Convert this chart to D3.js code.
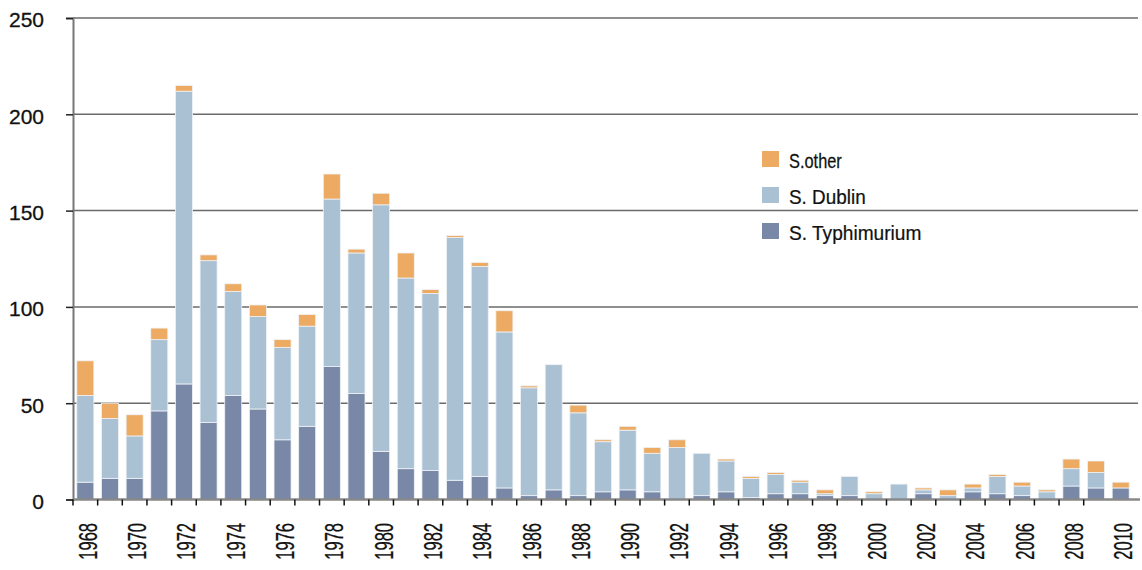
<!DOCTYPE html>
<html><head><meta charset="utf-8">
<script src="https://cdn.jsdelivr.net/npm/d3@7"></script>
<style>
body{margin:0;background:#fff;}
svg{display:block;}
text{font-family:"Liberation Sans Narrow","Liberation Sans",Arial,sans-serif;fill:#111;}
</style></head>
<body><svg id="c" width="1142" height="570"></svg>
<script>
const years = d3.range(1968, 2011);
const typhimurium = [9,11,11,46,60,40,54,47,31,38,69,55,25,16,15,10,12,6,2,5,2,4,5,4,0,2,4,1,3,3,2,2,0,0,3,0,4,3,2,0,7,6,6];
const dublin      = [45,31,22,37,152,84,54,48,48,52,87,73,128,99,92,126,109,81,56,65,43,26,31,20,27,22,16,10,10,6,1,10,3,8,2,2,2,9,5,4,9,8,0];
const other       = [18,8,11,6,3,3,4,6,4,6,13,2,6,13,2,1,2,11,1,0,4,1,2,3,4,0,1,1,1,1,2,0,1,0,1,3,2,1,2,1,5,6,3];
const seriesNames = ["S. Typhimurium","S. Dublin","S.other"];
const colors = ["#7888a6","#aac1d4","#edaa62"];
const yTicks = [0,50,100,150,200,250];
const xLabelYears = years.filter(y => y % 2 === 0);

(function(){
const svg = d3.select("#c");
const mLeft = 73, mRight = 1133, gridRight = 1138, mTop = 18, mBottom = 499.5;

const x = d3.scaleBand().domain(years).range([mLeft, mRight]).paddingInner(0.31).paddingOuter(0.155);
const y = d3.scaleLinear().domain([0,250]).range([mBottom, mTop]);

const table = years.map((yr,i)=>({year:yr, "S. Typhimurium":typhimurium[i], "S. Dublin":dublin[i], "S.other":other[i]}));
const stack = d3.stack().keys(seriesNames)(table);

svg.append("g").selectAll("line").data(yTicks.filter(t=>t>0)).join("line")
  .attr("x1", mLeft).attr("x2", gridRight)
  .attr("y1", d=>y(d)).attr("y2", d=>y(d))
  .attr("stroke","#6a6a6a").attr("stroke-width",1.5);

svg.append("g").selectAll("g").data(stack).join("g")
  .attr("fill",(d,i)=>colors[i])
  .selectAll("rect").data(d=>d.filter(s=>s[1]-s[0]>0)).join("rect")
  .attr("x", d=>x(d.data.year))
  .attr("width", x.bandwidth())
  .attr("y", d=>y(d[1]))
  .attr("height", d=>y(d[0])-y(d[1]))
  .attr("stroke","#eef2f6").attr("stroke-width",0.8);

const yAxis = d3.axisLeft(y).tickValues(yTicks).tickSize(7).tickPadding(22);
const ya = svg.append("g").attr("transform",`translate(${mLeft},0)`).call(yAxis);
ya.select(".domain").attr("stroke","#777").attr("stroke-width",2);
ya.selectAll(".tick line").attr("stroke","#222").attr("stroke-width",1.5);
ya.selectAll(".tick text").attr("font-family","Liberation Sans, Arial, sans-serif")
  .attr("font-size",21).attr("fill","#111").attr("dy","0.42em")
  .attr("stroke","#111").attr("stroke-width",0.3);

svg.append("line").attr("x1",mLeft).attr("x2",1140).attr("y1",mBottom).attr("y2",mBottom)
  .attr("stroke","#888").attr("stroke-width",2.5);
const step = x.step();
const tickYears = years.filter(yr => yr <= 2009);
svg.append("g").selectAll("line").data(tickYears).join("line")
  .attr("x1", d=>x(d) - (step - x.bandwidth())/2).attr("x2", d=>x(d) - (step - x.bandwidth())/2)
  .attr("y1", mBottom).attr("y2", mBottom+6)
  .attr("stroke","#111").attr("stroke-width",1.5);

svg.append("g").selectAll("text").data(xLabelYears).join("text")
  .attr("transform", d=>`translate(${x(d)+x.bandwidth()/2+2.5},523) rotate(-90) scale(0.66,1)`)
  .attr("text-anchor","end").attr("dy","0.36em")
  .attr("font-size",25)
  .attr("stroke","#111").attr("stroke-width",0.3)
  .text(d=>d);

const legendItems = ["S.other","S. Dublin","S. Typhimurium"];
const legendScale = [0.78,0.9,0.91];
const legendColors = [colors[2],colors[1],colors[0]];
const lg = svg.append("g").selectAll("g").data(legendItems).join("g")
  .attr("transform",(d,i)=>`translate(762,${151 + i*36})`);
lg.append("rect").attr("width",17).attr("height",16).attr("fill",(d,i)=>legendColors[i]);
lg.append("text").attr("font-size",21)
  .attr("transform",(d,i)=>`translate(27,16.5) scale(${legendScale[i]},1)`)
  .attr("stroke","#111").attr("stroke-width",0.25)
  .text(d=>d);
})();
</script></body></html>
